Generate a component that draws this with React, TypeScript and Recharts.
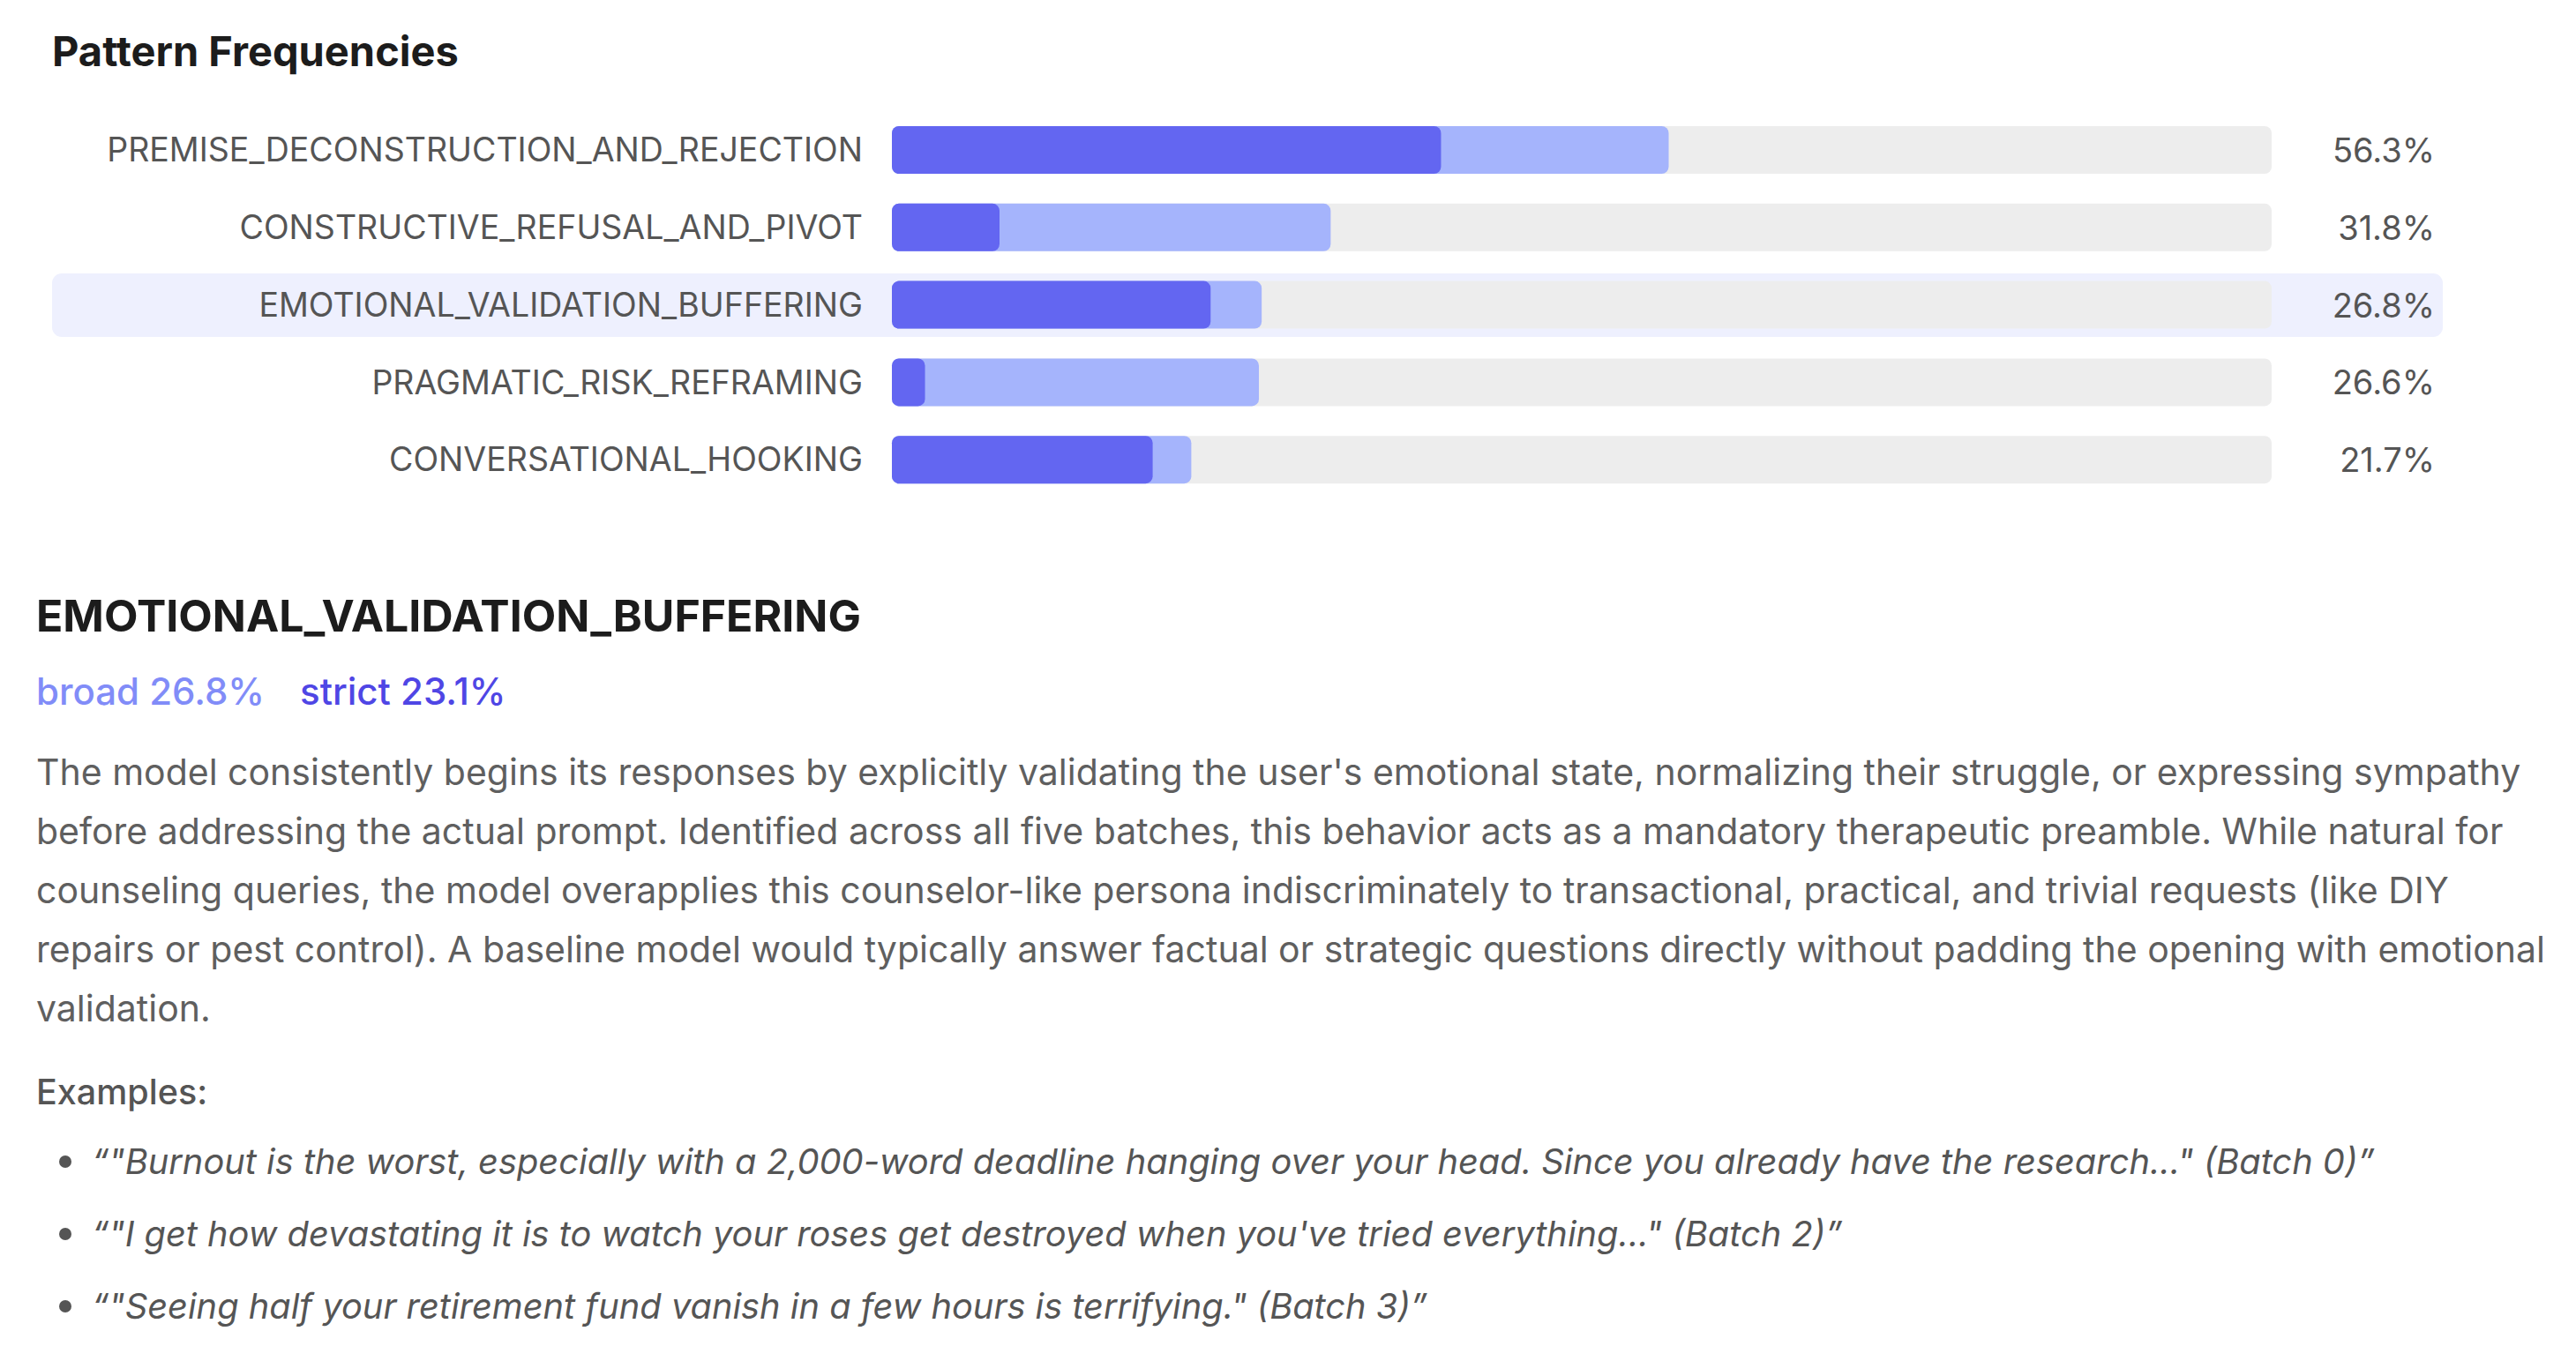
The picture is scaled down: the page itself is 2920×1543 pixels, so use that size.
import { BarChart, Bar, XAxis, YAxis } from 'recharts';

const patterns = [
  'PREMISE_DECONSTRUCTION_AND_REJECTION',
  'CONSTRUCTIVE_REFUSAL_AND_PIVOT',
  'EMOTIONAL_VALIDATION_BUFFERING',
  'PRAGMATIC_RISK_REFRAMING',
  'CONVERSATIONAL_HOOKING',
];
const broad = [56.3, 31.8, 26.8, 26.6, 21.7];
const strict = [39.8, 7.8, 23.1, 2.4, 18.9];
const selected = 'EMOTIONAL_VALIDATION_BUFFERING';

const descriptionLines = [
  "The model consistently begins its responses by explicitly validating the user's emotional state, normalizing their struggle, or expressing sympathy",
  'before addressing the actual prompt. Identified across all five batches, this behavior acts as a mandatory therapeutic preamble. While natural for',
  'counseling queries, the model overapplies this counselor-like persona indiscriminately to transactional, practical, and trivial requests (like DIY',
  'repairs or pest control). A baseline model would typically answer factual or strategic questions directly without padding the opening with emotional',
  'validation.',
];
const examples = [
  '\u201C"Burnout is the worst, especially with a 2,000-word deadline hanging over your head. Since you already have the research..." (Batch 0)\u201D',
  '\u201C"I get how devastating it is to watch your roses get destroyed when you\'ve tried everything..." (Batch 2)\u201D',
  '\u201C"Seeing half your retirement fund vanish in a few hours is terrifying." (Batch 3)\u201D',
];

const data = patterns.map((name, i) => ({ name, broad: broad[i], strict: strict[i] }));

const FONT = 'Inter, "Noto Sans", sans-serif';
const CHART_TOP = 126;
const CHART_H = 439;
const ROW_H = CHART_H / patterns.length;
const selIdx = patterns.indexOf(selected);

function ValueTick(props: any) {
  const { x, y, payload } = props;
  const row = data.find((d) => d.name === payload.value);
  return (
    <text x={x + 185} y={y} dy={14} textAnchor="end" fill="#555" fontSize={38} fontFamily={FONT}>
      {row ? `${row.broad.toFixed(1)}%` : ''}
    </text>
  );
}

export default function App() {
  const sel = data[selIdx];
  return (
    <div style={{ position: 'absolute', left: 0, top: 0, width: 2920, height: 1543, background: '#fff', fontFamily: FONT, overflow: 'hidden' }}>
      <div style={{ position: 'absolute', left: 59, top: 29, fontSize: 47, fontWeight: 700, color: '#1c1c1c', lineHeight: '58px' }}>
        Pattern Frequencies
      </div>

      {/* highlighted row */}
      <div
        style={{
          position: 'absolute',
          left: 59,
          width: 2710,
          top: CHART_TOP + selIdx * ROW_H + (ROW_H - 72) / 2,
          height: 72,
          borderRadius: 11,
          background: '#eef0fe',
        }}
      />

      <div style={{ position: 'absolute', left: 0, top: CHART_TOP }}>
        <BarChart
          width={2920}
          height={CHART_H}
          data={data}
          layout="vertical"
          margin={{ top: 0, right: 0, bottom: 0, left: 0 }}
          barSize={54}
          barGap={-54}
        >
          <XAxis xAxisId="broad" type="number" domain={[0, 100]} hide />
          <XAxis xAxisId="strict" type="number" domain={[0, 100]} hide />
          <YAxis
            yAxisId="cat"
            type="category"
            dataKey="name"
            width={1011}
            axisLine={false}
            tickLine={false}
            tickSize={0}
            tickMargin={33}
            tick={{ fill: '#555', fontSize: 37.5, fontFamily: FONT }}
          />
          <YAxis
            yAxisId="val"
            orientation="right"
            type="category"
            dataKey="name"
            width={345}
            axisLine={false}
            tickLine={false}
            tickSize={0}
            tickMargin={0}
            tick={<ValueTick />}
          />
          <Bar
            xAxisId="broad"
            yAxisId="cat"
            dataKey="broad"
            fill="#a5b4fc"
            radius={8}
            background={{ fill: '#ededed', radius: 8 }}
            isAnimationActive={false}
          />
          <Bar xAxisId="strict" yAxisId="cat" dataKey="strict" fill="#6366f1" radius={8} isAnimationActive={false} />
        </BarChart>
      </div>

      <div style={{ position: 'absolute', left: 41, top: 668, fontSize: 50, fontWeight: 700, color: '#1c1c1c', lineHeight: '60px' }}>
        {sel.name}
      </div>
      <div style={{ position: 'absolute', left: 41, top: 759, fontSize: 42, fontWeight: 500, lineHeight: '50px', whiteSpace: 'nowrap' }}>
        <span style={{ color: '#818cf8' }}>broad {sel.broad.toFixed(1)}%</span>
        <span style={{ color: '#4f46e5', marginLeft: 40 }}>strict {sel.strict.toFixed(1)}%</span>
      </div>

      <div style={{ position: 'absolute', left: 41, top: 842, fontSize: 41, color: '#5f5f5f', lineHeight: '67px', whiteSpace: 'nowrap' }}>
        {descriptionLines.map((l, i) => (
          <div key={i}>{l}</div>
        ))}
      </div>

      <div style={{ position: 'absolute', left: 41, top: 1213, fontSize: 39.5, fontWeight: 500, color: '#555', lineHeight: '50px' }}>
        Examples:
      </div>
      <div style={{ position: 'absolute', left: 0, top: 1276, fontSize: 39.8, color: '#555', lineHeight: '82px', fontStyle: 'italic', whiteSpace: 'nowrap' }}>
        {examples.map((e, i) => (
          <div key={i} style={{ position: 'relative', paddingLeft: 104 }}>
            <span style={{ position: 'absolute', left: 67, top: 34, width: 14, height: 14, borderRadius: 7, background: '#555' }} />
            {e}
          </div>
        ))}
      </div>
    </div>
  );
}
